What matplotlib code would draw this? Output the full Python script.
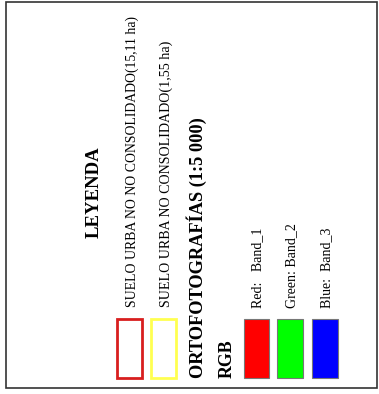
import matplotlib
matplotlib.use("Agg")
import matplotlib.pyplot as plt
from matplotlib.patches import Rectangle

title = "LEYENDA"
zone_labels = ["SUELO URBA NO NO CONSOLIDADO(15,11 ha)", "SUELO URBA NO CONSOLIDADO(1,55 ha)"]
zone_colors = ["#d81e1e", "#ffff50"]
ortho_title = "ORTOFOTOGRAFÍAS (1:5 000)"
rgb_title = "RGB"
band_labels = ["Red:   Band_1", "Green: Band_2", "Blue:  Band_3"]
band_colors = ["#ff0000", "#00ff00", "#0000ff"]

W, H = 379, 394
fig = plt.figure(figsize=(W / 100, H / 100), dpi=100)
ax = fig.add_axes([0, 0, 1, 1])
ax.set_xlim(0, W)
ax.set_ylim(H, 0)
ax.axis("off")
fam = ["Liberation Serif", "DejaVu Serif"]

# outer frame
ax.add_patch(Rectangle((6, 1.5), 371, 386.5, fill=False, edgecolor="#333333", lw=1.2))

ax.text(94, 192.5, title, rotation=90, ha="center", va="center", fontsize=13.5,
        fontweight="bold", family=fam)

# zones
zone_x = [117, 151]
zone_fs = [9.95, 10.1]
for i, (lab, col) in enumerate(zip(zone_labels, zone_colors)):
    x0 = zone_x[i]
    ax.add_patch(Rectangle((x0, 319), 25, 58.5, fill=False, edgecolor=col, lw=2))
    ax.text(x0 + 15, 307, lab, rotation=90, ha="center", va="bottom", fontsize=zone_fs[i],
            family=fam)

ax.text(197, 378, ortho_title, rotation=90, ha="center", va="bottom", fontsize=13.2,
        fontweight="bold", family=fam)
ax.text(227, 378, rgb_title, rotation=90, ha="center", va="bottom", fontsize=12.9,
        fontweight="bold", family=fam)

band_x = [243.5, 277, 312]
for i, (lab, col) in enumerate(zip(band_labels, band_colors)):
    x0 = band_x[i]
    ax.add_patch(Rectangle((x0, 318.5), 25.5, 59, facecolor=col, edgecolor="#777777", lw=0.8))
    ax.text(x0 + 14.5, 308, lab, rotation=90, ha="center", va="bottom", fontsize=10,
            family=fam)

fig.savefig("out.png", dpi=100)
